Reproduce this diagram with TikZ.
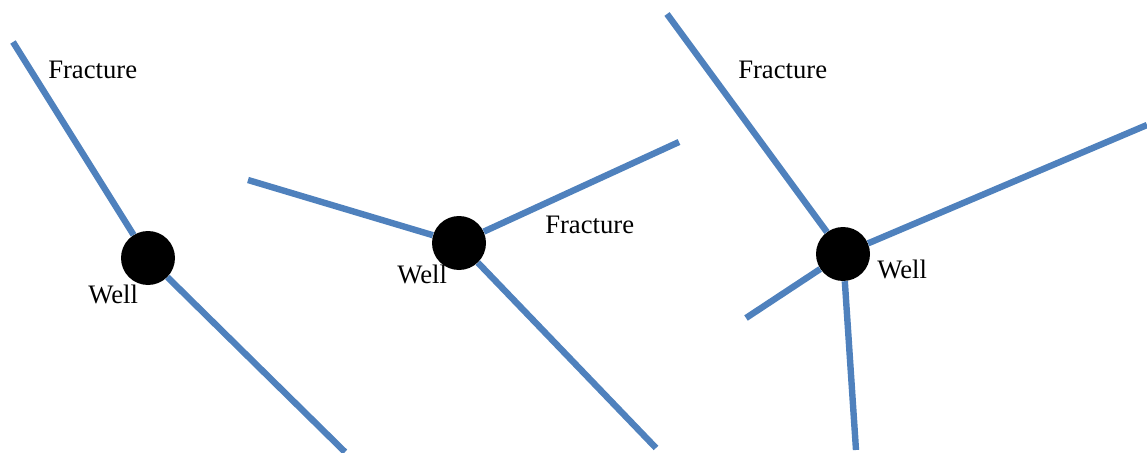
\documentclass[tikz,border=0pt]{standalone}
\usepackage{fontspec}
\setmainfont{Liberation Serif}
\definecolor{frac}{HTML}{4F81BD}
\begin{document}
\begin{tikzpicture}[x=0.75pt,y=-0.75pt,
  well/.style={circle,fill=black,draw=none,minimum size=40.5pt,inner sep=0pt},
  fracline/.style={draw=frac,line width=4.8pt},
  lbl/.style={anchor=base west,inner sep=0pt,font=\rmfamily\fontsize{20}{22}\selectfont}]
\useasboundingbox (0,0) rectangle (1147,453);
% panel 1
\node[well] (w1) at (148,258) {};
\coordinate (a1) at (13,42);
\coordinate (b1) at (345,452);
\draw[fracline] (w1) -- (a1);
\draw[fracline] (w1) -- (b1);
\node[lbl] (f1) at (48,79) {Fracture};
\node[lbl] (l1) at (88,303) {Well};
% panel 2
\node[well] (w2) at (459,243) {};
\coordinate (a2) at (248,180);
\coordinate (b2) at (679,142);
\coordinate (c2) at (656,448);
\draw[fracline] (w2) -- (a2);
\draw[fracline] (w2) -- (b2);
\draw[fracline] (w2) -- (c2);
\node[lbl] (f2) at (545,233) {Fracture};
\node[lbl] (l2) at (397,283) {Well};
% panel 3
\node[well] (w3) at (843,254) {};
\coordinate (a3) at (667,14);
\coordinate (b3) at (1147,125);
\coordinate (c3) at (746,318);
\coordinate (d3) at (856,450);
\draw[fracline] (w3) -- (a3);
\draw[fracline] (w3) -- (b3);
\draw[fracline] (w3) -- (c3);
\draw[fracline] (w3) -- (d3);
\node[lbl] (f3) at (738,79) {Fracture};
\node[lbl] (l3) at (877,278) {Well};
\end{tikzpicture}
\end{document}
